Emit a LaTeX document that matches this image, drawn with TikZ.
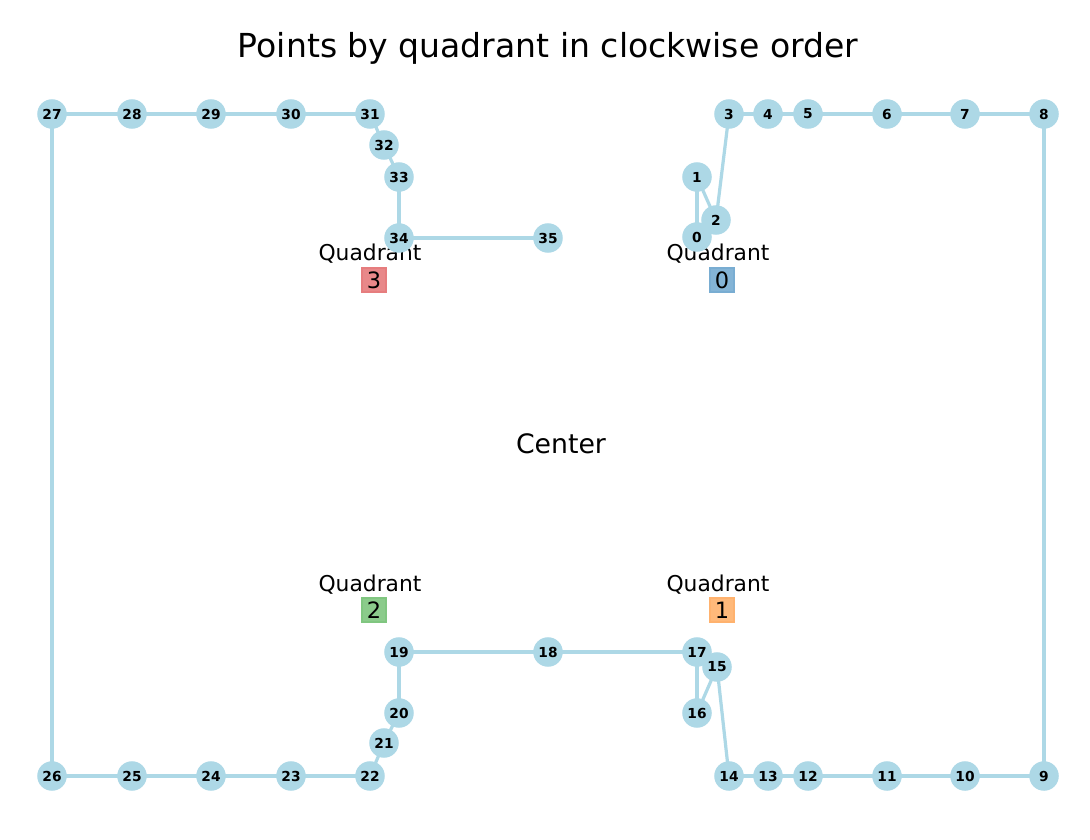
\documentclass[tikz,border=0pt]{standalone}
\usepackage{fontspec}
\setmainfont{DejaVu Sans}
\begin{document}
\begin{tikzpicture}[x=0.025cm,y=-0.025cm]
\definecolor{lb}{RGB}{173,216,230}
\tikzset{pt/.style={circle,fill=lb,minimum size=21pt,inner sep=0pt,font=\bfseries\fontsize{9.8}{10}\selectfont},
edge/.style={draw=lb,line width=2.3pt},
qlab/.style={font=\fontsize{15.5}{17}\selectfont},
qbox/.style={draw=#1!60,fill=#1!55,line width=1.2pt,inner sep=1.5pt,minimum width=17pt,minimum height=17pt,font=\fontsize{16}{17}\selectfont}}
\definecolor{q0}{RGB}{31,119,180}
\definecolor{q1}{RGB}{255,127,14}
\definecolor{q2}{RGB}{44,160,44}
\definecolor{q3}{RGB}{214,39,40}
\useasboundingbox (0,0) rectangle (1090,840);
\node[font=\fontsize{23.5}{26}\selectfont] (title) at (548,48) {Points by quadrant in clockwise order};
\node[font=\fontsize{19}{21}\selectfont] (center) at (561,444) {Center};
\node[qlab] (ql0) at (718,254) {Quadrant};
\node[qbox=q0] (qb0) at (722,280) {0};
\node[qlab] (ql1) at (718,585) {Quadrant};
\node[qbox=q1] (qb1) at (722,610) {1};
\node[qlab] (ql2) at (370,585) {Quadrant};
\node[qbox=q2] (qb2) at (374,610) {2};
\node[qlab] (ql3) at (370,254) {Quadrant};
\node[qbox=q3] (qb3) at (374,280) {3};
\foreach \i/\x/\y in {0/697/237,1/697/177,2/716/220,3/729/114,4/768/114,5/808/114,6/887/114,7/965/114,8/1044/114,9/1044/776,10/965/776,11/887/776,12/808/776,13/768/776,14/729/776,15/717/667,16/697/713,17/697/652,18/548/652,19/399/652,20/399/713,21/384/743,22/370/776,23/291/776,24/211/776,25/132/776,26/52/776,27/52/114,28/132/114,29/211/114,30/291/114,31/370/114,32/384/145,33/399/177,34/399/238,35/548/238}
  \coordinate (c\i) at (\x,\y);
\foreach \i [evaluate=\i as \j using int(\i+1)] in {0,...,34}
  \draw[edge] (c\i) -- (c\j);
\foreach \i in {0,...,35}
  \node[pt] (p\i) at (c\i) {\i};
\end{tikzpicture}
\end{document}
